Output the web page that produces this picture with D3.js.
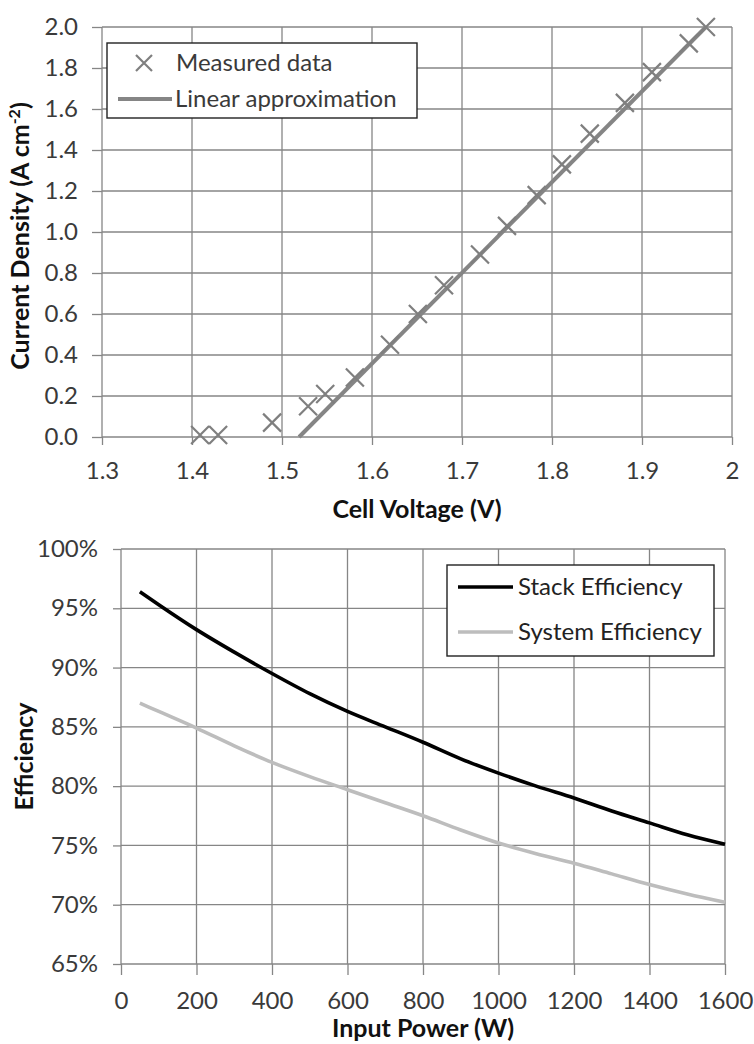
<!DOCTYPE html>
<html>
<head>
<meta charset="utf-8">
<script src="https://cdn.jsdelivr.net/npm/d3@7"></script>
<style>
  body { margin: 0; background: #fff; }
  svg text { font-family: Lato, "Noto Sans", sans-serif; }
</style>
</head>
<body>
<svg id="chart" width="754" height="1044"></svg>
<script>
// Top chart: polarisation curve
const measuredVoltage = [1.409, 1.429, 1.489, 1.529, 1.548, 1.581, 1.620, 1.651, 1.680, 1.720, 1.750, 1.783, 1.811, 1.842, 1.881, 1.911, 1.952, 1.971];
const measuredCurrent = [0.01, 0.01, 0.07, 0.15, 0.21, 0.29, 0.45, 0.60, 0.74, 0.89, 1.03, 1.18, 1.33, 1.48, 1.63, 1.78, 1.92, 2.00];
const linearVoltage = [1.519, 1.971];
const linearCurrent = [0.0, 2.0];
const voltageTicks = [1.3, 1.4, 1.5, 1.6, 1.7, 1.8, 1.9, 2.0];
const voltageLabels = ['1.3', '1.4', '1.5', '1.6', '1.7', '1.8', '1.9', '2'];
const currentTicks = [0, 0.2, 0.4, 0.6, 0.8, 1.0, 1.2, 1.4, 1.6, 1.8, 2.0];

// Bottom chart: efficiency vs input power
const inputPower = [50, 100, 200, 300, 400, 500, 600, 700, 800, 900, 1000, 1100, 1200, 1300, 1400, 1500, 1600];
const stackEfficiency = [0.964, 0.953, 0.932, 0.913, 0.895, 0.878, 0.863, 0.850, 0.837, 0.823, 0.811, 0.800, 0.790, 0.779, 0.769, 0.759, 0.751];
const systemEfficiency = [0.870, 0.863, 0.849, 0.834, 0.820, 0.808, 0.797, 0.786, 0.775, 0.763, 0.752, 0.743, 0.735, 0.726, 0.717, 0.709, 0.702];
const powerTicks = [0, 200, 400, 600, 800, 1000, 1200, 1400, 1600];
const efficiencyTicks = [0.65, 0.70, 0.75, 0.80, 0.85, 0.90, 0.95, 1.00];

const GRID = '#868686';
const LABEL = '#3a3a3a';
const TICK_FONT = '24px';
const TITLE_FONT = '25px';

const svg = d3.select('#chart');

function styleAxis(g) {
    g.select('.domain').remove();
    g.selectAll('.tick line').attr('stroke', GRID).attr('stroke-width', 1.3);
    g.selectAll('.tick text')
        .attr('fill', LABEL)
        .attr('font-size', TICK_FONT);
}

function drawGrid(g, x, y, xTicks, yTicks) {
    const [x0, x1] = x.range();
    const [y0, y1] = y.range();
    g.append('g').selectAll('line').data(yTicks).join('line')
        .attr('x1', x0).attr('x2', x1)
        .attr('y1', d => y(d)).attr('y2', d => y(d))
        .attr('stroke', GRID).attr('stroke-width', 1.3);
    g.append('g').selectAll('line').data(xTicks).join('line')
        .attr('x1', d => x(d)).attr('x2', d => x(d))
        .attr('y1', y0).attr('y2', y1)
        .attr('stroke', GRID).attr('stroke-width', 1.3);
}

function legendBox(g, x, y, w, h) {
    g.append('rect')
        .attr('x', x).attr('y', y)
        .attr('width', w).attr('height', h)
        .attr('fill', '#fff')
        .attr('stroke', '#222')
        .attr('stroke-width', 1.4);
}

/* ---------- top chart ---------- */
const upper = svg.append('g');
const xV = d3.scaleLinear().domain([1.3, 2.0]).range([102, 732]);
const yJ = d3.scaleLinear().domain([0, 2.0]).range([437, 27]);

drawGrid(upper, xV, yJ, voltageTicks, currentTicks);

upper.append('g')
    .attr('transform', `translate(0,${yJ(0)})`)
    .call(d3.axisBottom(xV).tickValues(voltageTicks)
        .tickFormat((d, i) => voltageLabels[i])
        .tickSize(8).tickSizeOuter(0).tickPadding(17))
    .call(styleAxis);

upper.append('g')
    .attr('transform', `translate(${xV(1.3)},0)`)
    .call(d3.axisLeft(yJ).tickValues(currentTicks)
        .tickFormat(d3.format('.1f'))
        .tickSize(10).tickSizeOuter(0).tickPadding(14))
    .call(styleAxis);

// linear fit
upper.append('path')
    .datum(linearVoltage.map((v, i) => [v, linearCurrent[i]]))
    .attr('fill', 'none')
    .attr('stroke', '#858585')
    .attr('stroke-width', 4)
    .attr('d', d3.line().x(d => xV(d[0])).y(d => yJ(d[1])));

// measured crosses
const crossPath = 'M-9,-9L9,9M-9,9L9,-9';
upper.append('g').selectAll('path')
    .data(measuredVoltage.map((v, i) => [v, measuredCurrent[i]]))
    .join('path')
    .attr('transform', d => `translate(${xV(d[0])},${yJ(d[1])})`)
    .attr('d', crossPath)
    .attr('fill', 'none')
    .attr('stroke', '#7f7f7f')
    .attr('stroke-width', 2.2);

// legend
legendBox(upper, 107, 43, 310, 75);
upper.append('path')
    .attr('transform', 'translate(144,63)')
    .attr('d', 'M-8,-8L8,8M-8,8L8,-8')
    .attr('stroke', '#7f7f7f').attr('stroke-width', 2.2);
upper.append('text').attr('x', 176).attr('y', 63).attr('dy', '0.35em')
    .attr('font-size', TICK_FONT).attr('fill', LABEL).text('Measured data');
upper.append('line')
    .attr('x1', 118).attr('x2', 172).attr('y1', 99).attr('y2', 99)
    .attr('stroke', '#858585').attr('stroke-width', 4);
upper.append('text').attr('x', 175).attr('y', 99).attr('dy', '0.35em')
    .attr('font-size', TICK_FONT).attr('fill', LABEL).text('Linear approximation');

// axis titles
upper.append('text')
    .attr('x', (xV.range()[0] + xV.range()[1]) / 2).attr('y', 518)
    .attr('text-anchor', 'middle')
    .attr('font-size', TITLE_FONT).attr('font-weight', 'bold').attr('fill', '#111')
    .text('Cell Voltage (V)');

const yTitle = upper.append('text')
    .attr('transform', `translate(29,${(yJ.range()[0] + yJ.range()[1]) / 2 + 4}) rotate(-90)`)
    .attr('text-anchor', 'middle')
    .attr('font-size', TITLE_FONT).attr('font-weight', 'bold').attr('fill', '#111');
yTitle.append('tspan').text('Current Density (A cm');
yTitle.append('tspan').attr('font-size', '16px').attr('baseline-shift', '55%').text('-2');
yTitle.append('tspan').text(')');

/* ---------- bottom chart ---------- */
const lower = svg.append('g');
const xP = d3.scaleLinear().domain([0, 1600]).range([121, 725]);
const yE = d3.scaleLinear().domain([0.65, 1.0]).range([964, 549]);

drawGrid(lower, xP, yE, powerTicks, efficiencyTicks);

lower.append('g')
    .attr('transform', `translate(0,${yE(0.65)})`)
    .call(d3.axisBottom(xP).tickValues(powerTicks)
        .tickFormat(d3.format('d'))
        .tickSize(11).tickSizeOuter(0).tickPadding(17))
    .call(styleAxis);

lower.append('g')
    .attr('transform', `translate(${xP(0)},0)`)
    .call(d3.axisLeft(yE).tickValues(efficiencyTicks)
        .tickFormat(d3.format('.0%'))
        .tickSize(8).tickSizeOuter(0).tickPadding(15))
    .call(styleAxis);

const effLine = d3.line().curve(d3.curveMonotoneX)
    .x(d => xP(d[0])).y(d => yE(d[1]));

lower.append('path')
    .datum(inputPower.map((p, i) => [p, systemEfficiency[i]]))
    .attr('fill', 'none').attr('stroke', '#bdbdbd').attr('stroke-width', 3.6)
    .attr('d', effLine);

lower.append('path')
    .datum(inputPower.map((p, i) => [p, stackEfficiency[i]]))
    .attr('fill', 'none').attr('stroke', '#000').attr('stroke-width', 3.6)
    .attr('d', effLine);

// legend
legendBox(lower, 447, 565, 267, 91);
lower.append('line')
    .attr('x1', 458).attr('x2', 513).attr('y1', 587).attr('y2', 587)
    .attr('stroke', '#000').attr('stroke-width', 3.6);
lower.append('text').attr('x', 518).attr('y', 587).attr('dy', '0.35em')
    .attr('font-size', TICK_FONT).attr('fill', '#222').text('Stack Efficiency');
lower.append('line')
    .attr('x1', 458).attr('x2', 513).attr('y1', 632).attr('y2', 632)
    .attr('stroke', '#bdbdbd').attr('stroke-width', 3.6);
lower.append('text').attr('x', 518).attr('y', 632).attr('dy', '0.35em')
    .attr('font-size', TICK_FONT).attr('fill', '#222').text('System Efficiency');

// axis titles
lower.append('text')
    .attr('x', (xP.range()[0] + xP.range()[1]) / 2).attr('y', 1037)
    .attr('text-anchor', 'middle')
    .attr('font-size', TITLE_FONT).attr('font-weight', 'bold').attr('fill', '#111')
    .text('Input Power (W)');

lower.append('text')
    .attr('transform', `translate(33,${(yE.range()[0] + yE.range()[1]) / 2}) rotate(-90)`)
    .attr('text-anchor', 'middle')
    .attr('font-size', TITLE_FONT).attr('font-weight', 'bold').attr('fill', '#111')
    .text('Efficiency');
</script>
</body>
</html>
